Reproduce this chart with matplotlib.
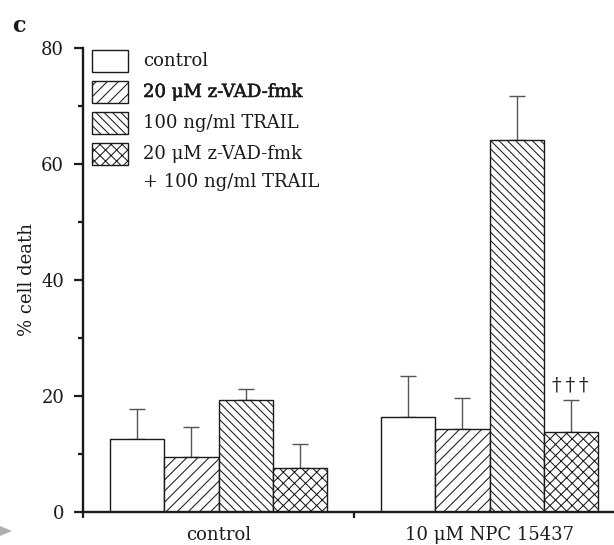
import matplotlib

matplotlib.use("Agg")

import matplotlib.patheffects as pe  # noqa: E402
import matplotlib.pyplot as plt  # noqa: E402
import numpy as np  # noqa: E402
from matplotlib.patches import Polygon, Rectangle  # noqa: E402

# Groups on the x axis and the four treatments inside each group.
groups = ["control", "10 μM NPC 15437"]
treatments = [
    "control",
    "20 μM z-VAD-fmk",
    "100 ng/ml TRAIL",
    "20 μM z-VAD-fmk\n+ 100 ng/ml TRAIL",
]
hatches = ["", "///", "\\\\\\\\", "xxx"]

# % cell death, one list per group (treatment order as above).
means = [
    [12.5, 9.4, 19.2, 7.6],
    [16.4, 14.2, 64.1, 13.7],
]
errors = [
    [5.3, 5.3, 2.0, 4.1],
    [7.1, 5.4, 7.7, 5.6],
]

y_ticks = [0, 20, 40, 60, 80]
y_minor = [10, 30, 50, 70]

W, H = 614, 545
FONT = "DejaVu Serif"
FS = 13
INK = "#1a1a1a"

plt.rcParams["font.family"] = [FONT]
plt.rcParams["hatch.linewidth"] = 0.75

fig = plt.figure(figsize=(W / 100, H / 100), dpi=100)


def fx(px):
    return px / W


def fy(py):
    return 1 - py / H


# axes box placed in pixels (right end runs past the crop, like the original)
ax = fig.add_axes([fx(83), fy(511.7), (625 - 83) / W, (511.7 - 48.3) / H])

bar_w = 0.2
offsets = (np.arange(len(treatments)) - 1.5) * bar_w
x_groups = np.arange(len(groups))

for i, hatch in enumerate(hatches):
    vals = [m[i] for m in means]
    errs = [e[i] for e in errors]
    xs = x_groups + offsets[i]
    ax.errorbar(xs, vals, yerr=[np.zeros(len(errs)), errs], fmt="none",
                ecolor="#555555", elinewidth=1.0, capsize=6, capthick=1.0, zorder=1)
    ax.bar(xs, vals, width=bar_w, color="white", edgecolor=INK,
           linewidth=1.0, hatch=hatch, zorder=2)

# significance marks over the last bar of the NPC group
ax.annotate("†\u2009†\u2009†", (x_groups[1] + offsets[3], means[1][3] + errors[1][3]),
            xytext=(0, 4), textcoords="offset points", ha="center", va="bottom",
            fontsize=14, color="#222222")

ax.set_xlim(-0.5, 1.5)
ax.set_ylim(0, 80)

for side in ["top", "right"]:
    ax.spines[side].set_visible(False)
for side in ["left", "bottom"]:
    ax.spines[side].set_linewidth(1.7)
    ax.spines[side].set_color(INK)

ax.set_yticks(y_ticks)
ax.set_yticks(y_minor, minor=True)
ax.tick_params(axis="y", which="major", length=6.5, width=1.6, pad=7,
               labelsize=FS, colors=INK)
ax.tick_params(axis="y", which="minor", length=3.6, width=1.6, color=INK)

# separator ticks between groups, labels at group centres
ax.set_xticks([-0.5, 0.5])
ax.set_xticklabels(["", ""])
ax.set_xticks(x_groups, minor=True)
ax.set_xticklabels(groups, minor=True)
ax.tick_params(axis="x", which="major", length=4.5, width=1.6, color=INK)
ax.tick_params(axis="x", which="minor", length=0, pad=10, labelsize=FS,
               labelcolor=INK)

ax.set_ylabel("% cell death", fontsize=FS, color=INK, labelpad=4)

# legend drawn by hand so the 2-line label keeps its box on the first line
for i, (label, hatch) in enumerate(zip(treatments, hatches)):
    cy = 61 + 31 * i
    fig.add_artist(Rectangle((fx(92), fy(cy + 11)), 36 / W, 22 / H,
                             transform=fig.transFigure, facecolor="white",
                             edgecolor=INK, linewidth=1.0, hatch=hatch))
    for j, line in enumerate(label.split("\n")):
        t = fig.text(fx(143), fy(cy + 28 * j), line, fontsize=FS, va="center",
                     ha="left", color=INK)
        if i == 1:
            # this entry is printed a little heavier in the original
            t.set_path_effects([pe.withStroke(linewidth=0.4, foreground=INK)])

fig.text(fx(12), fy(26), "c", fontsize=16, fontweight="bold", va="center",
         ha="left", color=INK)

# small grey arrow head left over at the bottom-left edge
fig.add_artist(Polygon([(fx(0), fy(526)), (fx(12), fy(531)), (fx(0), fy(536))],
                       closed=True, transform=fig.transFigure,
                       facecolor="#b0b0b0", edgecolor="none"))

fig.savefig("out.png", dpi=100)
plt.close(fig)
